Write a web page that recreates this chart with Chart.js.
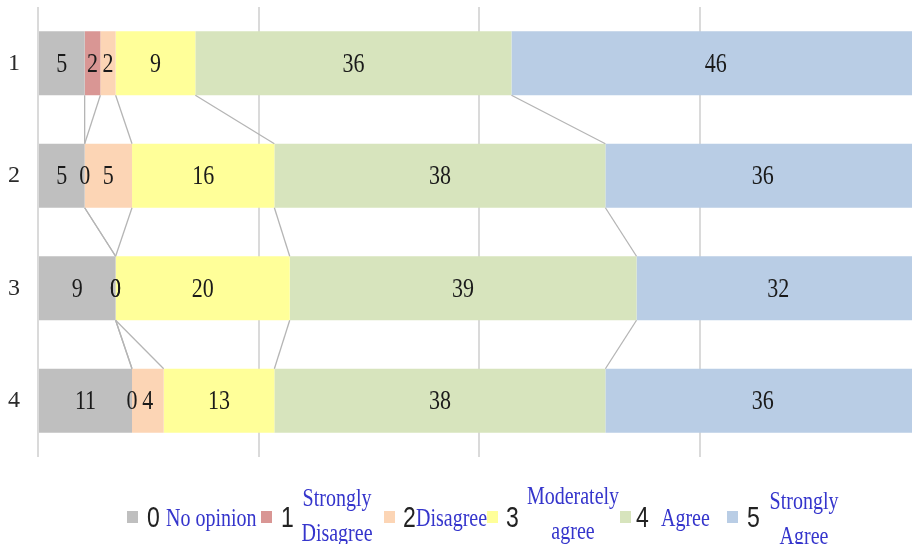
<!DOCTYPE html>
<html>
<head>
<meta charset="utf-8">
<script src="https://cdn.jsdelivr.net/npm/chart.js@4/dist/chart.umd.min.js"></script>
<style>
  html, body { margin: 0; padding: 0; background: #ffffff; overflow: hidden; width: 912px; height: 544px; }
  #wrap { position: absolute; left: 0; top: 0; width: 920px; height: 457px; }
  #legend { position: absolute; left: 0; top: 0; width: 912px; height: 544px; pointer-events: none; }
  .sq { position: absolute; width: 11px; height: 12px; transform: translateY(-50%); }
  .num { position: absolute; font-family: "Liberation Sans", Arial, sans-serif; font-size: 23px; line-height: 26px; color: #222; transform: translateY(-50%) scaleY(1.25); }
  .txt { position: absolute; font-family: "Liberation Serif", "Times New Roman", serif; font-size: 20px; line-height: 28px; color: #3535cc; white-space: nowrap; transform: translateY(-50%) scaleY(1.25); }
</style>
</head>
<body>
<div id="wrap"><canvas id="c" width="920" height="457"></canvas></div>
<div id="legend"></div>
<script>
// ---- data ----
const categories = ['1', '2', '3', '4'];
const seriesNumbers = ['0', '1', '2', '3', '4', '5'];
const seriesNames = ['No opinion', 'Strongly\nDisagree', 'Disagree', 'Moderately\nagree', 'Agree', 'Strongly\nAgree'];
const noOpinion        = [5.29, 5.29, 8.80, 10.66];
const stronglyDisagree = [1.78, 0, 0, 0];
const disagree         = [1.73, 5.37, 0, 3.59];
const moderatelyAgree  = [9.04, 16.14, 19.74, 12.55];
const agree            = [35.84, 37.53, 39.32, 37.53];
const stronglyAgree    = [46.32, 35.67, 32.14, 35.67];
const xAxisMin = 0;
const xAxisMax = 100;
const xAxisStep = 25;

// ---- styles ----
const colors = ['#bfbfbf', '#d99694', '#fcd5b5', '#ffff99', '#d7e4bd', '#b9cde5'];
const seriesValues = [noOpinion, stronglyDisagree, disagree, moderatelyAgree, agree, stronglyAgree];

const seriesLinesPlugin = {
  id: 'seriesLines',
  afterDatasetsDraw(chart) {
    const ctx = chart.ctx;
    ctx.save();
    ctx.strokeStyle = '#b5b5b5';
    ctx.lineWidth = 1.3;
    chart.data.datasets.forEach((ds, k) => {
      const meta = chart.getDatasetMeta(k);
      for (let i = 0; i < meta.data.length - 1; i++) {
        const a = meta.data[i].getProps(['x', 'y', 'height'], true);
        const b = meta.data[i + 1].getProps(['x', 'y', 'height'], true);
        ctx.beginPath();
        ctx.moveTo(a.x, a.y + a.height / 2);
        ctx.lineTo(b.x, b.y - b.height / 2);
        ctx.stroke();
      }
    });
    ctx.restore();
  }
};

const valueLabelsPlugin = {
  id: 'valueLabels',
  afterDatasetsDraw(chart) {
    const ctx = chart.ctx;
    ctx.save();
    ctx.font = '22px "Liberation Serif", "Times New Roman", serif';
    ctx.fillStyle = '#1a1a1a';
    ctx.textAlign = 'center';
    ctx.textBaseline = 'middle';
    chart.data.datasets.forEach((ds, k) => {
      const meta = chart.getDatasetMeta(k);
      meta.data.forEach((el, i) => {
        const p = el.getProps(['x', 'y', 'base'], true);
        const cx = (p.x + p.base) / 2;
        ctx.save();
        ctx.translate(cx, p.y);
        ctx.scale(1, 1.25);
        ctx.fillText(String(Math.round(ds.data[i])), 0, 1);
        ctx.restore();
      });
    });
    ctx.restore();
  }
};

new Chart(document.getElementById('c'), {
  type: 'bar',
  data: {
    labels: categories,
    datasets: seriesValues.map((vals, k) => ({
      label: seriesNumbers[k] + ' ' + seriesNames[k].replace('\n', ' '),
      data: vals,
      backgroundColor: colors[k],
      borderWidth: 0,
      barPercentage: 0.569,
      categoryPercentage: 1.0
    }))
  },
  options: {
    indexAxis: 'y',
    responsive: false,
    animation: false,
    layout: { padding: { top: 7, bottom: 0, left: 0, right: 0 } },
    plugins: { legend: { display: false }, tooltip: { enabled: false } },
    scales: {
      x: {
        stacked: true,
        min: xAxisMin,
        max: xAxisMax,
        ticks: { display: false, stepSize: xAxisStep },
        grid: { color: '#dadada', lineWidth: 2, drawTicks: false },
        border: { display: false },
        afterFit(scale) { scale.height = 0; scale.paddingLeft = 0; scale.paddingRight = 0; }
      },
      y: {
        stacked: true,
        ticks: {
          color: '#2a2a2a',
          padding: 18,
          font: { family: '"Liberation Serif", "Times New Roman", serif', size: 24 }
        },
        grid: { display: false, drawTicks: false },
        border: { display: false },
        afterFit(scale) { scale.width = 38; scale.paddingTop = 0; scale.paddingBottom = 0; }
      }
    }
  },
  plugins: [seriesLinesPlugin, valueLabelsPlugin]
});

// ---- custom legend ----
const legendLayout = [
  { sq: 127, num: 147, text: 166, center: false, cy: 517 },
  { sq: 261, num: 281, text: 337, center: true, cy: 515 },
  { sq: 384, num: 403, text: 416, center: false, cy: 517 },
  { sq: 487, num: 506, text: 573, center: true, cy: 513 },
  { sq: 620, num: 636, text: 661, center: false, cy: 517 },
  { sq: 727, num: 747, text: 804, center: true, cy: 518 }
];
const legend = document.getElementById('legend');
seriesNames.forEach((name, k) => {
  const L = legendLayout[k];
  const sq = document.createElement('div');
  sq.className = 'sq';
  sq.style.left = L.sq + 'px';
  sq.style.top = '517px';
  sq.style.background = colors[k];
  legend.appendChild(sq);

  const num = document.createElement('div');
  num.className = 'num';
  num.style.left = L.num + 'px';
  num.style.top = '517px';
  num.textContent = seriesNumbers[k];
  legend.appendChild(num);

  const txt = document.createElement('div');
  txt.className = 'txt';
  txt.style.top = L.cy + 'px';
  const lines = name.split('\n');
  lines.forEach((ln, j) => {
    if (j > 0) txt.appendChild(document.createElement('br'));
    txt.appendChild(document.createTextNode(ln));
  });
  if (L.center) {
    txt.style.left = L.text + 'px';
    txt.style.textAlign = 'center';
    txt.style.transform = 'translate(-50%, -50%) scaleY(1.25)';
  } else {
    txt.style.left = L.text + 'px';
  }
  legend.appendChild(txt);
});
</script>
</body>
</html>
